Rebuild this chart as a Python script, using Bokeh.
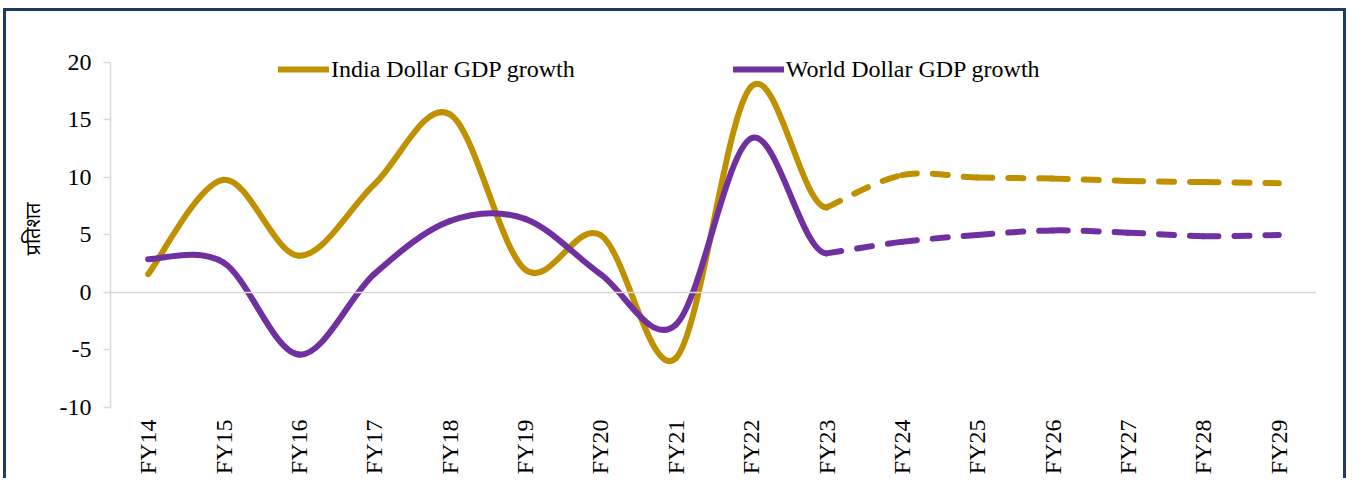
import math
from bokeh.plotting import figure
from bokeh.models import (ColumnDataSource, FixedTicker, Range1d, Span, Legend, LegendItem)
from bokeh.embed import file_html
from bokeh.resources import INLINE

categories = ["FY14", "FY15", "FY16", "FY17", "FY18", "FY19", "FY20", "FY21",
              "FY22", "FY23", "FY24", "FY25", "FY26", "FY27", "FY28", "FY29"]
# actual values FY14..FY23, projections FY23..FY29
india_actual = [1.6, 9.8, 3.2, 9.4, 15.5, 2.0, 5.0, -5.7, 17.9, 7.4]
world_actual = [2.9, 2.6, -5.4, 1.6, 6.2, 6.4, 1.6, -2.8, 13.4, 3.4]
india_proj = [7.4, 10.2, 10.0, 9.9, 9.7, 9.6, 9.5]
world_proj = [3.4, 4.4, 5.0, 5.4, 5.2, 4.9, 5.0]
y_ticks = [-10, -5, 0, 5, 10, 15, 20]

INDIA_COLOR = "#BF9000"
WORLD_COLOR = "#7030A0"
BORDER = "#1F3864"
FONT = "Liberation Serif"


def smooth_source(xs, ys, flat_end=False):
    """Excel-like smoothing: cubic Bezier segments with Catmull-Rom control points."""
    n = len(xs)
    d = dict(x0=[], y0=[], x1=[], y1=[], cx0=[], cy0=[], cx1=[], cy1=[])
    for i in range(n - 1):
        ip = max(i - 1, 0)
        inn = min(i + 2, n - 1)
        d["x0"].append(xs[i]); d["y0"].append(ys[i])
        d["x1"].append(xs[i + 1]); d["y1"].append(ys[i + 1])
        d["cx0"].append(xs[i] + (xs[i + 1] - xs[ip]) / 6.0)
        d["cy0"].append(ys[i] + (ys[i + 1] - ys[ip]) / 6.0)
        if flat_end and i == n - 2:
            d["cx1"].append(xs[i + 1] - (xs[i + 1] - xs[i]) / 3.0)
            d["cy1"].append(ys[i + 1])
        else:
            d["cx1"].append(xs[i + 1] - (xs[inn] - xs[i]) / 6.0)
            d["cy1"].append(ys[i + 1] - (ys[inn] - ys[i]) / 6.0)
    return ColumnDataSource(d)


n_act = len(india_actual)
x_act = list(range(n_act))
x_proj = list(range(n_act - 1, n_act - 1 + len(india_proj)))

p = figure(width=1347, height=478, output_backend="svg", toolbar_location=None,
           x_range=Range1d(-0.5, len(categories) - 0.5), y_range=Range1d(-10, 21.04),
           min_border_left=110, min_border_right=31, min_border_top=50, min_border_bottom=71)
p.outline_line_color = None
p.background_fill_color = "white"
p.border_fill_alpha = 0
# chart-area frame line (page decoration) drawn behind the transparent canvas border
grad = f"linear-gradient({BORDER},{BORDER})"
p.styles = {"background": (f"{grad} 4px 8px / 1341px 3px no-repeat, "
                           f"{grad} 3px 8px / 3px 600px no-repeat, "
                           f"{grad} 1343px 8px / 3px 600px no-repeat, white")}
p.xgrid.visible = False
p.ygrid.visible = False

p.add_layout(Span(location=0, dimension="width", line_color="#D9D9D9", line_width=1.5))

common = dict(line_width=6, line_cap="round", line_join="round")
bz = dict(x0="x0", y0="y0", x1="x1", y1="y1", cx0="cx0", cy0="cy0", cx1="cx1", cy1="cy1")
r_india = p.bezier(source=smooth_source(x_act, india_actual, flat_end=True),
                   line_color=INDIA_COLOR, **bz, **common)
p.bezier(source=smooth_source(x_proj, india_proj), line_color=INDIA_COLOR,
         line_dash="15 16", **bz, **common)
r_world = p.bezier(source=smooth_source(x_act, world_actual, flat_end=True),
                   line_color=WORLD_COLOR, **bz, **common)
p.bezier(source=smooth_source(x_proj, world_proj), line_color=WORLD_COLOR,
         line_dash="15 16", **bz, **common)

# x axis
p.xaxis.ticker = FixedTicker(ticks=list(range(len(categories))))
p.xaxis.major_label_overrides = {i: c for i, c in enumerate(categories)}
p.xaxis.major_label_orientation = math.pi / 2
p.xaxis.axis_line_color = None
p.xaxis.major_tick_line_color = None
p.xaxis.minor_tick_line_color = None
p.xaxis.major_tick_out = 0
p.xaxis.major_label_standoff = 12
p.xaxis.major_label_text_font = FONT
p.xaxis.major_label_text_font_size = "24px"
p.xaxis.major_label_text_color = "black"

# y axis
p.yaxis.ticker = FixedTicker(ticks=y_ticks)
p.yaxis.bounds = (y_ticks[0], y_ticks[-1])
p.yaxis.major_label_overrides = {t: str(t) for t in y_ticks}
p.yaxis.axis_line_color = "#D9D9D9"
p.yaxis.axis_line_width = 1.5
p.yaxis.major_tick_line_color = "#D9D9D9"
p.yaxis.major_tick_line_width = 1.5
p.yaxis.major_tick_out = 7
p.yaxis.major_tick_in = 0
p.yaxis.minor_tick_line_color = None
p.yaxis.major_label_standoff = 12
p.yaxis.major_label_text_font = FONT
p.yaxis.major_label_text_font_size = "24px"
p.yaxis.major_label_text_color = "black"
p.yaxis.axis_label = "प्रतिशत"
p.yaxis.axis_label_text_font = "Noto Sans Devanagari, Lohit Devanagari, Liberation Serif"
p.yaxis.axis_label_text_font_size = "20px"
p.yaxis.axis_label_text_font_style = "normal"
p.yaxis.axis_label_text_color = "black"
p.yaxis.axis_label_standoff = 9

legend = Legend(items=[LegendItem(label="India Dollar GDP growth", renderers=[r_india]),
                       LegendItem(label="World Dollar GDP growth", renderers=[r_world])],
                orientation="horizontal", location=(168, 324),
                glyph_width=51, glyph_height=28, label_height=28, label_standoff=2, spacing=158,
                padding=0, margin=0, border_line_color=None, background_fill_alpha=0,
                label_text_font=FONT, label_text_font_size="24px", label_text_color="black")
p.add_layout(legend)

open("out.html", "w").write(file_html(p, INLINE))
